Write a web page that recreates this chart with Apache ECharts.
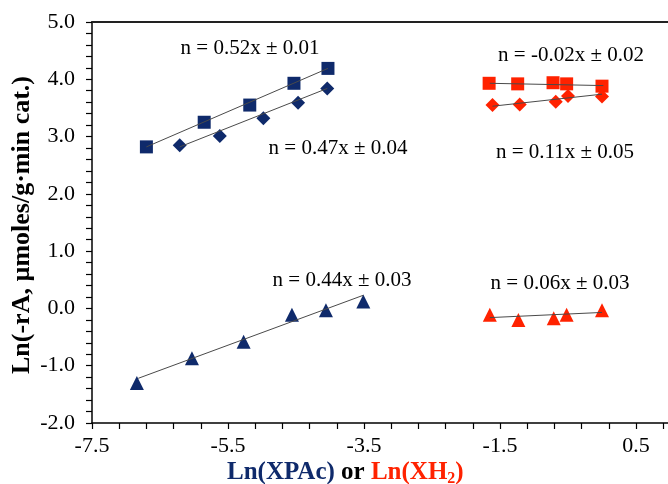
<!DOCTYPE html>
<html>
<head>
	<meta charset="utf-8">
	<title>Ln(-rA) vs Ln(X)</title>
	<style>
		html, body { margin: 0; padding: 0; background: #fff; }
		#chart { width: 668px; height: 484px; }
	</style>
</head>
<body>
	<div id="chart"></div>
	<script src="https://cdn.jsdelivr.net/npm/echarts@6/dist/echarts.min.js"></script>
	<script type="text/javascript">
	// PAc series (navy)
	var pacSqX = [-6.70, -5.85, -5.18, -4.53, -4.03];
	var pacSqY = [2.82, 3.25, 3.55, 3.93, 4.19];
	var pacDiaX = [-6.21, -5.62, -4.98, -4.47, -4.04];
	var pacDiaY = [2.85, 3.01, 3.32, 3.59, 3.84];
	var pacTriX = [-6.84, -6.03, -5.27, -4.56, -4.06, -3.51];
	var pacTriY = [-1.30, -0.87, -0.58, -0.11, -0.03, 0.12];
	// H2 series (red)
	var h2SqX = [-1.66, -1.24, -0.72, -0.52, 0.00];
	var h2SqY = [3.93, 3.92, 3.94, 3.92, 3.88];
	var h2DiaX = [-1.61, -1.21, -0.68, -0.50, 0.00];
	var h2DiaY = [3.55, 3.56, 3.61, 3.71, 3.70];
	var h2TriX = [-1.65, -1.23, -0.71, -0.52, 0.00];
	var h2TriY = [-0.11, -0.20, -0.17, -0.11, -0.03];
	// fitted lines, end points
	var fitPacSq = [[-6.70, 2.82], [-4.03, 4.19]];
	var fitPacDia = [[-6.21, 2.82], [-4.04, 3.84]];
	var fitPacTri = [[-6.82, -1.22], [-3.51, 0.23]];
	var fitH2Sq = [[-1.65, 3.93], [0.02, 3.89]];
	var fitH2Dia = [[-1.61, 3.53], [0.00, 3.74]];
	var fitH2Tri = [[-1.65, -0.16], [0.00, -0.07]];
	// axis ticks
	var xLabelValues = [-7.5, -5.5, -3.5, -1.5, 0.5];
	var xTickValues = [-7.5, -7.1, -6.7, -6.3, -5.9, -5.5, -5.1, -4.7, -4.3, -3.9, -3.5,
		-3.1, -2.7, -2.3, -1.9, -1.5, -1.1, -0.7, -0.3, 0.1, 0.5, 0.9];
	var slopeTexts = ['n = 0.52x \u00b1 0.01', 'n = 0.47x \u00b1 0.04', 'n = 0.44x \u00b1 0.03',
		'n = -0.02x \u00b1 0.02', 'n = 0.11x \u00b1 0.05', 'n = 0.06x \u00b1 0.03'];

	var NAVY = '#0f2a6b';
	var RED = '#ff2200';
	var FONT = "'Liberation Serif', 'Times New Roman', serif";

	function zip(xs, ys) {
		var out = [];
		for (var i = 0; i < xs.length; i++) out.push([xs[i], ys[i]]);
		return out;
	}

	function pts(name, xs, ys, color, symbol, size) {
		return {
			name: name,
			type: 'scatter',
			data: zip(xs, ys),
			symbol: symbol,
			symbolSize: size,
			itemStyle: { color: color, opacity: 1 },
			z: 2
		};
	}

	function fit(name, data) {
		return {
			name: name,
			type: 'line',
			data: data,
			showSymbol: false,
			symbol: 'none',
			lineStyle: { color: '#4a4a4a', width: 1 },
			z: 3,
			silent: true
		};
	}

	function note(text, x, y) {
		return {
			type: 'text',
			x: x,
			y: y,
			style: {
				text: text,
				font: '21px ' + FONT,
				fill: '#000',
				textAlign: 'center',
				textVerticalAlign: 'middle'
			}
		};
	}

	var myChart = echarts.init(document.getElementById('chart'));
	var option = {
		backgroundColor: '#fff',
		animation: false,
		grid: { left: 92, top: 22, right: -2, bottom: 61, outerBoundsMode: 'none' },
		xAxis: [{
			type: 'value',
			min: -7.5,
			max: 1.0,
			splitLine: { show: false },
			axisLine: { onZero: false, lineStyle: { color: '#000', width: 1.5 } },
			axisTick: { customValues: xTickValues, length: 6, lineStyle: { color: '#000', width: 1.2 } },
			axisLabel: {
				customValues: xLabelValues,
				margin: 12,
				color: '#000',
				fontFamily: FONT,
				fontSize: 22,
				formatter: function(v) { return v.toFixed(1); }
			}
		}, {
			type: 'value',
			position: 'top',
			min: -7.5,
			max: 1.0,
			splitLine: { show: false },
			axisLine: { onZero: false, lineStyle: { color: '#222', width: 2 } },
			axisTick: { show: false },
			axisLabel: { show: false }
		}],
		yAxis: {
			type: 'value',
			min: -2,
			max: 5,
			interval: 1,
			splitLine: { show: false },
			axisLine: { show: true, onZero: false, lineStyle: { color: '#000', width: 1.5 } },
			axisTick: { show: true, length: 6, lineStyle: { color: '#000', width: 1.2 } },
			minorTick: { show: true, splitNumber: 5, length: 6, lineStyle: { color: '#000', width: 1.2 } },
			axisLabel: {
				margin: 17,
				color: '#000',
				fontFamily: FONT,
				fontSize: 22,
				formatter: function(v) { return v.toFixed(1); }
			}
		},
		series: [
			pts('PAc sq', pacSqX, pacSqY, NAVY, 'rect', 13),
			pts('PAc dia', pacDiaX, pacDiaY, NAVY, 'diamond', 14),
			pts('PAc tri', pacTriX, pacTriY, NAVY, 'triangle', 14),
			pts('H2 sq', h2SqX, h2SqY, RED, 'rect', 13),
			pts('H2 dia', h2DiaX, h2DiaY, RED, 'diamond', 14),
			pts('H2 tri', h2TriX, h2TriY, RED, 'triangle', 14),
			fit('fit PAc sq', fitPacSq),
			fit('fit PAc dia', fitPacDia),
			fit('fit PAc tri', fitPacTri),
			fit('fit H2 sq', fitH2Sq),
			fit('fit H2 dia', fitH2Dia),
			fit('fit H2 tri', fitH2Tri)
		],
		graphic: [
			note(slopeTexts[0], 250, 48),
			note(slopeTexts[1], 338, 148),
			note(slopeTexts[2], 342, 280),
			note(slopeTexts[3], 571, 55),
			note(slopeTexts[4], 565, 152),
			note(slopeTexts[5], 560, 283),
			{
				type: 'text',
				x: 22,
				y: 225,
				rotation: Math.PI / 2,
				style: {
					text: 'Ln(-rA, \u00b5moles/g\u00b7min cat.)',
					font: 'bold 26px ' + FONT,
					fill: '#000',
					textAlign: 'center',
					textVerticalAlign: 'middle'
				}
			},
			{
				type: 'text',
				x: 227,
				y: 473,
				style: {
					text: '{a|Ln(XPAc)} {b|or} {c|Ln(XH}{s|2}{c|)}',
					textVerticalAlign: 'middle',
					font: 'bold 25px ' + FONT,
					rich: {
						a: { font: 'bold 25px ' + FONT, fill: NAVY },
						b: { font: 'bold 25px ' + FONT, fill: '#000' },
						c: { font: 'bold 25px ' + FONT, fill: RED },
						s: { font: 'bold 16px ' + FONT, fill: RED, padding: [12, 0, 0, 0] }
					}
				}
			}
		]
	};
	myChart.setOption(option);
	</script>
</body>
</html>
